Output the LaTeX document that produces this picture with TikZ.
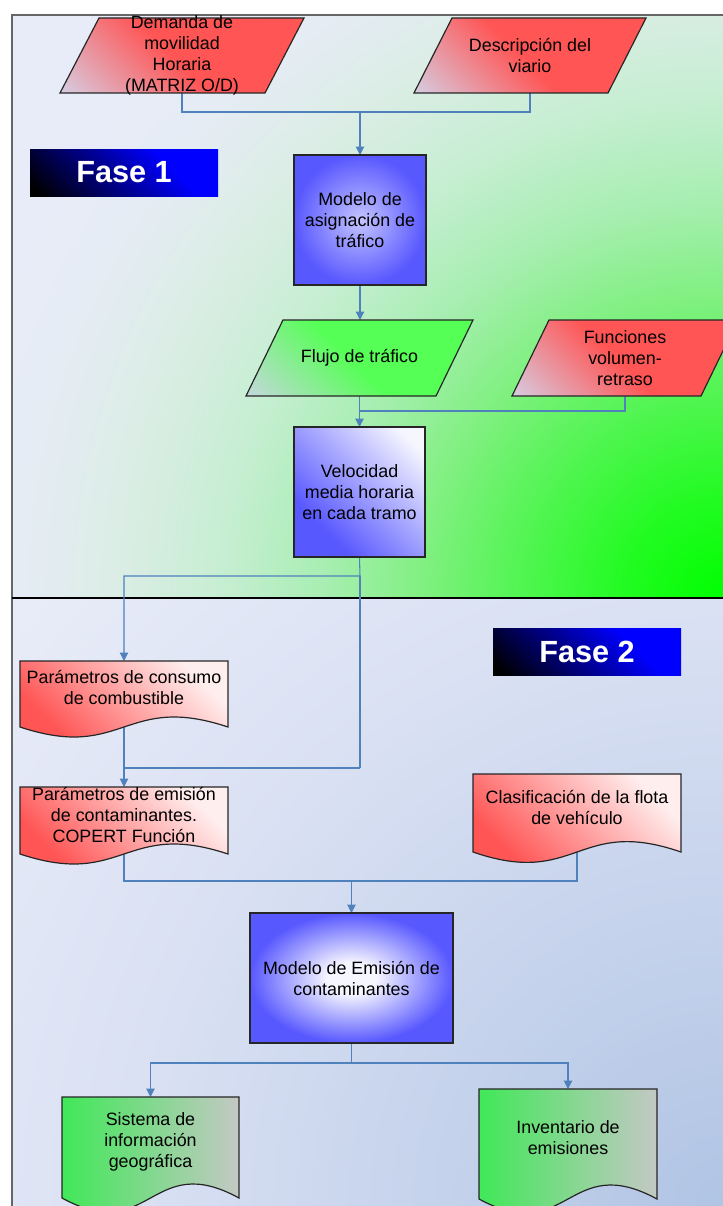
\documentclass[tikz,border=0pt]{standalone}
\usepackage{fontspec}
\setmainfont{Liberation Sans}
\usetikzlibrary{arrows.meta,calc}
\pgfdeclarelayer{bgl}
\pgfdeclarelayer{conl}
\pgfdeclarelayer{shl}
\pgfsetlayers{bgl,conl,shl,main}

\definecolor{conn}{HTML}{4F81BD}
\definecolor{lite}{HTML}{E8ECF8}
\definecolor{redc}{HTML}{FF5555}
\definecolor{grayl}{HTML}{D6CCE0}
\definecolor{redl}{HTML}{FFEEEE}
\definecolor{grnp}{HTML}{55FF55}
\definecolor{grnpl}{HTML}{C4D8DC}
\definecolor{bluec}{HTML}{5858FF}
\definecolor{bluel}{HTML}{C4C4FF}
\definecolor{bluew}{HTML}{F6F6FF}
\definecolor{grnd}{HTML}{40E858}
\definecolor{grnr}{HTML}{C4C8C4}
\definecolor{fmid}{HTML}{0000A8}
\definecolor{pa}{HTML}{00FF00}
\definecolor{pb}{HTML}{22FB22}
\definecolor{pc}{HTML}{50F550}
\definecolor{pd}{HTML}{80F080}
\definecolor{pe}{HTML}{A8EEB2}
\definecolor{pf}{HTML}{C6EED2}
\definecolor{pg}{HTML}{DAEDE4}
\definecolor{ph}{HTML}{E5ECF4}
\definecolor{qa}{HTML}{B0C4E4}
\definecolor{qb}{HTML}{C6D3EC}
\definecolor{qc}{HTML}{DAE1F3}

\pgfdeclareradialshading{phaseone}{\pgfpoint{0bp}{0bp}}{color(0bp)=(pa); color(2.5bp)=(pb); color(5bp)=(pc); color(7.5bp)=(pd); color(10bp)=(pe); color(12.5bp)=(pf); color(15bp)=(pg); color(17.5bp)=(ph); color(19.5bp)=(lite); color(50bp)=(lite)}
\pgfdeclareradialshading{phasetwo}{\pgfpoint{0bp}{0bp}}{color(0bp)=(qa); color(7.5bp)=(qb); color(15bp)=(qc); color(23bp)=(lite); color(50bp)=(lite)}
\pgfdeclarehorizontalshading{fasesh}{100bp}{color(0bp)=(black); color(18bp)=(black); color(50bp)=(fmid); color(66bp)=(blue); color(100bp)=(blue)}
\pgfdeclarehorizontalshading{redpar}{100bp}{color(0bp)=(grayl); color(15bp)=(grayl); color(48bp)=(redc); color(100bp)=(redc)}
\pgfdeclarehorizontalshading{grnpar}{100bp}{color(0bp)=(grnpl); color(15bp)=(grnpl); color(48bp)=(grnp); color(100bp)=(grnp)}
\pgfdeclarehorizontalshading{reddoc}{100bp}{color(0bp)=(redc); color(30bp)=(redc); color(75bp)=(redl); color(100bp)=(redl)}
\pgfdeclarehorizontalshading{grndoc}{100bp}{color(0bp)=(grnd); color(25bp)=(grnd); color(75bp)=(grnr); color(100bp)=(grnr)}
\pgfdeclareradialshading{boxone}{\pgfpoint{0bp}{0bp}}{color(0bp)=(bluel); color(25bp)=(bluec); color(50bp)=(bluec)}
\pgfdeclareradialshading{boxtwo}{\pgfpoint{0bp}{0bp}}{color(0bp)=(bluew); color(6bp)=(bluew); color(25bp)=(bluec); color(50bp)=(bluec)}
\pgfdeclarehorizontalshading{boxlin}{100bp}{color(0bp)=(bluec); color(30bp)=(bluec); color(78bp)=(bluew); color(100bp)=(bluew)}

\newfontfamily\arialf{Liberation Sans}
\newcommand\txtfont{\arialf\fontsize{13.4pt}{15.75pt}\selectfont}

\tikzset{
  txt/.style={font=\txtfont, align=center, inner sep=0pt, text=black},
  gnode/.style={draw=none, inner sep=0pt, outer sep=0pt},
  shp/.style={draw=black!85, line width=0.9pt},
  box/.style={draw=black!85, line width=0.9pt, inner sep=0pt, outer sep=0pt, font=\txtfont, align=center},
  fasebox/.style={shade, shading=fasesh, shading angle=45, inner sep=0pt, outer sep=0pt,
    text=white, font=\arialf\bfseries\fontsize{23pt}{26pt}\selectfont},
  cline/.style={draw=conn, line width=0.8pt},
  carrow/.style={cline, -{Triangle[length=6.2pt,width=6.2pt]}},
}

% name, L, T, R, M, k, shading opts, text
\newcommand\docshape[8]{%
  \node[gnode, minimum width={(#4-#2)*0.75pt}, minimum height={(#5-12-#3)*0.75pt},
        label={[txt]center:{#8}}] (#1) at ({(#2+#4)/2},{(#3+#5-12)/2}) {};
  \begin{pgfonlayer}{shl}
  \path[shp,#7] (#2,#3) -- (#4,#3) -- (#4,#5) .. controls ({(#2+#4)/2},{#5-#6}) and ({(#2+#4)/2},{#5+#6}) .. (#2,#5) -- cycle;
  \end{pgfonlayer}
}
% name, L, T, R, B, slant, shading opts, text
\newcommand\parashape[8]{%
  \node[gnode, minimum width={(#4-#2)*0.75pt}, minimum height={(#5-#3)*0.75pt},
        label={[txt]center:{#8}}] (#1) at ({(#2+#4)/2},{(#3+#5)/2}) {};
  \begin{pgfonlayer}{shl}
  \path[shp,#7] ({#2+#6},#3) -- (#4,#3) -- ({#4-#6},#5) -- (#2,#5) -- cycle;
  \end{pgfonlayer}
}

\begin{document}
\begin{tikzpicture}[x=0.75pt,y=-0.75pt]
\useasboundingbox (0,0) rectangle (723,1206);

% backgrounds
\begin{pgfonlayer}{bgl}
  \fill[white] (0,0) rectangle (723,1206);
  \begin{scope}
    \clip (12,15) rectangle (723,598);
    \fill[lite] (12,15) rectangle (723,598);
    \shade[shading=phaseone] (723,598) circle (1000);
  \end{scope}
  \begin{scope}
    \clip (12,598) rectangle (723,1206);
    \fill[lite] (12,598) rectangle (723,1206);
    \shade[shading=phasetwo] (723,1206) circle (1000);
  \end{scope}
  \draw[black!60, line width=1pt] (12,1206) -- (12,15) -- (723,15);
  \draw[black, line width=1pt] (12,598) -- (723,598);
\end{pgfonlayer}

% Phase labels
\node[fasebox, minimum width={188*0.75pt}, minimum height={47*0.75pt}] (f1) at (124,172.5) {Fase 1};
\node[fasebox, minimum width={188*0.75pt}, minimum height={47*0.75pt}] (f2) at (587,651.5) {Fase 2};

% Phase 1 shapes
\parashape{dem}{60}{18}{304}{93}{39}{shade, shading=redpar, shading angle=45}{Demanda de\\movilidad\\Horaria\\(MATRIZ O/D)}
\parashape{desc}{414}{18}{646}{93}{38}{shade, shading=redpar, shading angle=45}{Descripción del\\viario}
\node[box, shade, shading=boxone, minimum width={132*0.75pt}, minimum height={130*0.75pt}] (mod1) at (360,220) {Modelo de\\asignación de\\tráfico};
\parashape{flujo}{246}{320}{473}{396}{37}{shade, shading=grnpar, shading angle=45}{Flujo de tráfico}
\parashape{fun}{512}{320}{738}{396}{37}{shade, shading=redpar, shading angle=45}{Funciones\\volumen-\\retraso}
\node[box, shade, shading=boxlin, shading angle=45, minimum width={131*0.75pt}, minimum height={130*0.75pt}] (vel) at (359.5,492) {Velocidad\\media horaria\\en cada tramo};

% Phase 2 shapes
\docshape{pc}{20}{661}{228}{727}{34.6}{shade, shading=reddoc, shading angle=45}{Parámetros de consumo\\de combustible}
\docshape{pe}{20}{787}{228}{854}{34.6}{shade, shading=reddoc, shading angle=45}{Parámetros de emisión\\de contaminantes.\\COPERT Función}
\docshape{cl}{473}{774}{681}{852}{36}{shade, shading=reddoc, shading angle=45}{Clasificación de la flota\\de vehículo}
\node[box, shade, shading=boxtwo, minimum width={203*0.75pt}, minimum height={130*0.75pt}] (me) at (351.5,978) {Modelo de Emisión de\\contaminantes};
\docshape{sis}{62}{1097}{239}{1198}{48.5}{shade, shading=grndoc}{Sistema de\\información\\geográfica}
\docshape{inv}{479}{1089}{657}{1199}{48.5}{shade, shading=grndoc}{Inventario de\\emisiones}

% connectors
\begin{pgfonlayer}{conl}
  \coordinate (j1) at (360,112);
  \draw[cline] (dem.south) |- (j1);
  \draw[cline] (desc.south) |- (j1);
  \draw[carrow] (j1) -- (mod1.north);
  \draw[carrow] (mod1.south) -- (mod1.south |- flujo.north);
  \coordinate (j2) at (360,411);
  \draw[cline] (fun.south) |- (j2);
  \draw[carrow] (flujo.south -| vel.north) -- (vel.north);
  \coordinate (j3) at (360,576);
  \coordinate (j4) at (360,768);
  \draw[carrow] (vel.south) -- (j3) -| (pc.north);
  \draw[cline] (j3) -- (j4);
  \draw[carrow] (j4) -| (pe.north);
  \draw[cline] (pc.south) -- (pc.south |- j4);
  \coordinate (j5) at (351.5,881);
  \draw[cline] (pe.south) |- (j5);
  \draw[cline] (cl.south) |- (j5);
  \draw[carrow] (j5) -- (me.north);
  \coordinate (j6) at (351.5,1063);
  \draw[cline] (me.south) -- (j6);
  \draw[carrow] (j6) -| (sis.north);
  \draw[carrow] (j6) -| (inv.north);
\end{pgfonlayer}
\end{tikzpicture}
\end{document}
